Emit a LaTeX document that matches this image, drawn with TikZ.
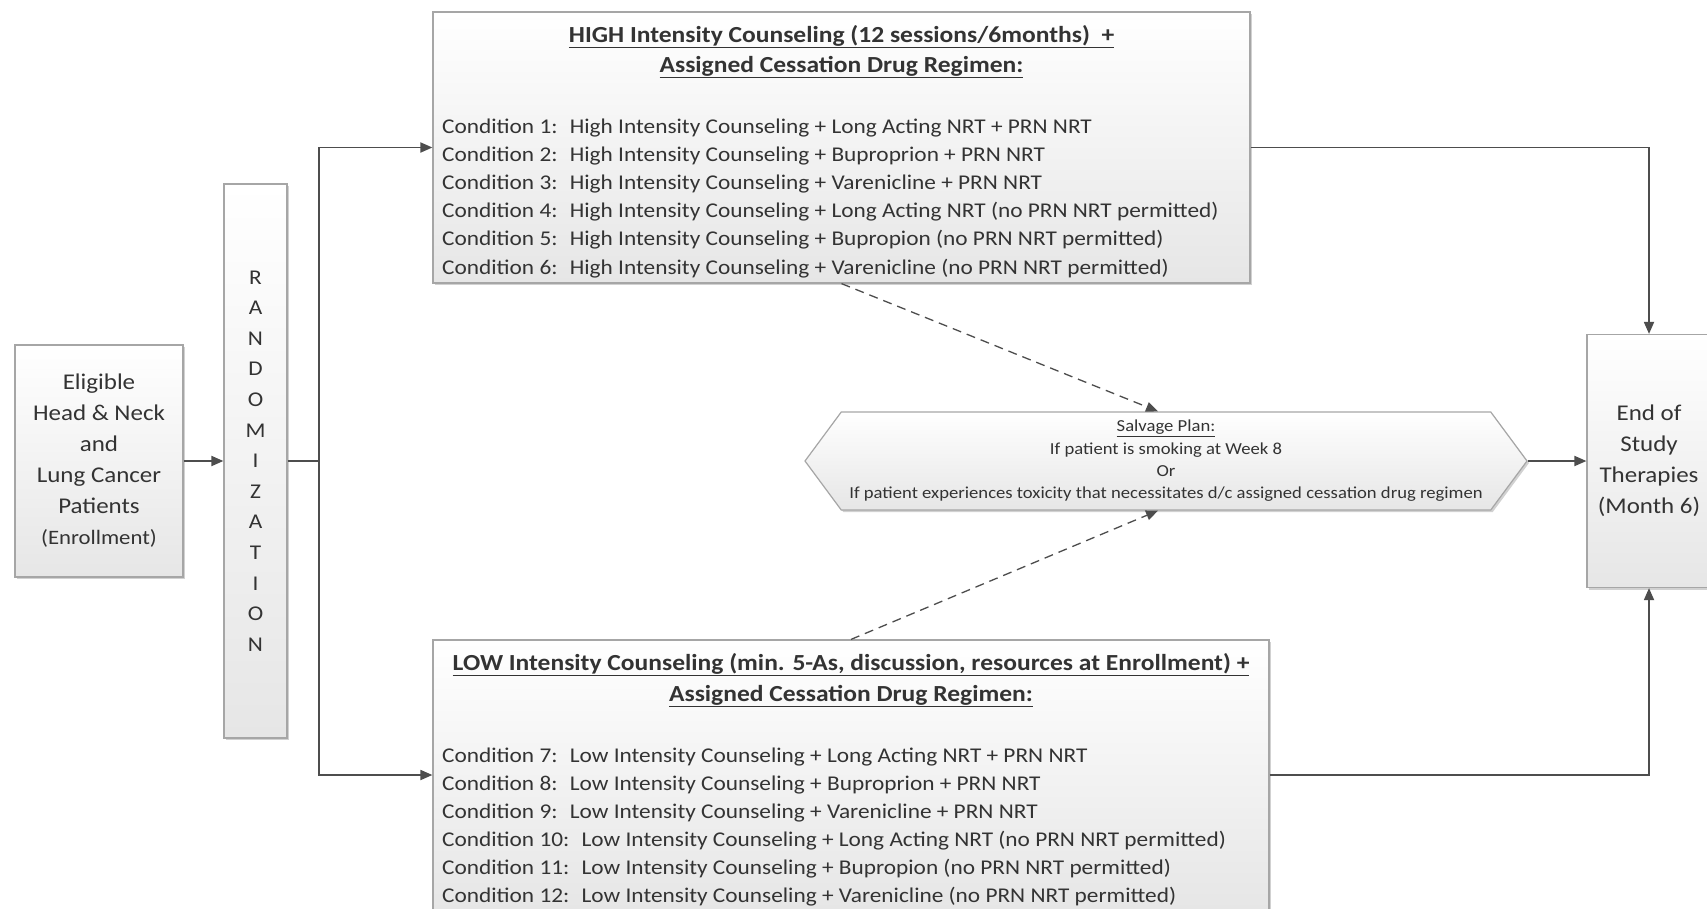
\documentclass[tikz,border=0pt]{standalone}
\usepackage{fontspec}
\setmainfont{Carlito}[FakeStretch=1.11]
\usetikzlibrary{arrows.meta,shadows,shapes.symbols}
\definecolor{txt}{HTML}{333333}
\definecolor{ln}{HTML}{4D4D4D}
\definecolor{bd}{HTML}{A6A6A6}
\definecolor{shd}{HTML}{E6E6E6}
\begin{document}
\begin{tikzpicture}[x=1pt,y=-1pt,
  box/.style={draw=bd, line width=1.2pt, top color=white, bottom color=shd,
    drop shadow={shadow xshift=2pt,shadow yshift=-2pt,fill=black,opacity=0.18},
    inner sep=0pt, text=txt},
  con/.style={draw=ln, line width=1.8pt},
  arr/.style={con, -{Triangle[length=12pt,width=10pt]}},
  dsh/.style={draw=ln, line width=1.3pt, dash pattern=on 9pt off 6pt, -{Triangle[length=12pt,width=10pt]}},
  cond/.style={anchor=base west, inner sep=0pt, text=txt, font=\fontsize{21}{25}\selectfont},
  head/.style={anchor=base, inner sep=0pt, text=txt, font=\bfseries\fontsize{23}{27}\selectfont},
]
\useasboundingbox (0,0) rectangle (1707,908);
\clip (0,0) rectangle (1707,908);
\fill[white] (0,0) rectangle (1707,908);

% boxes
\node[box, minimum width=168pt, minimum height=232pt, align=center,
  font=\fontsize{22.5}{31}\selectfont] (elig) at (99,461)
  {Eligible\\Head \& Neck\\and\\Lung Cancer\\Patients\\{\fontsize{20.5}{31}\selectfont (Enrollment)}};
\node[box, minimum width=63pt, minimum height=554pt, align=center,
  font=\fontsize{21}{30.6}\selectfont] (rand) at (255.5,461)
  {R\\A\\N\\D\\O\\M\\I\\Z\\A\\T\\I\\O\\N};
\node[box, minimum width=817pt, minimum height=271pt] (high) at (841.5,147.5) {};
\node[box, minimum width=836pt, minimum height=270pt] (low) at (851,775) {};
\node[box, minimum width=124pt, minimum height=253pt, align=center,
  font=\fontsize{22.5}{31}\selectfont] (end) at (1649,461)
  {End of\\Study\\Therapies\\(Month 6)};
\node[box, signal, signal to=west and east, signal pointer angle=107,
  minimum width=722pt, minimum height=98pt, align=center,
  font=\fontsize{16.8}{22.3}\selectfont] (salv) at (1166,461)
  {\underline{Salvage Plan:}\\If patient is smoking at Week 8\\Or\\If patient experiences toxicity that necessitates d/c assigned cessation drug regimen};

% high box text
\node[head] (hh1) at (841.5,42) {\underline{HIGH Intensity Counseling (12 sessions/6months)~ +}};
\node[head] (hh2) at (841.5,72) {\underline{Assigned Cessation Drug Regimen:}};
\node[cond] (c1) at (442,133) {Condition 1:~ High Intensity Counseling + Long Acting NRT + PRN NRT};
\node[cond] (c2) at (442,161.2) {Condition 2:~ High Intensity Counseling + Buproprion + PRN NRT};
\node[cond] (c3) at (442,189.4) {Condition 3:~ High Intensity Counseling + Varenicline + PRN NRT};
\node[cond] (c4) at (442,217.6) {Condition 4:~ High Intensity Counseling + Long Acting NRT (no PRN NRT permitted)};
\node[cond] (c5) at (442,245.8) {Condition 5:~ High Intensity Counseling + Bupropion (no PRN NRT permitted)};
\node[cond] (c6) at (442,274) {Condition 6:~ High Intensity Counseling + Varenicline (no PRN NRT permitted)};

% low box text
\node[head] (lh1) at (851,670) {\underline{LOW Intensity Counseling (min. 5-As, discussion, resources at Enrollment) +}};
\node[head] (lh2) at (851,701) {\underline{Assigned Cessation Drug Regimen:}};
\node[cond] (c7) at (442,762) {Condition 7:~ Low Intensity Counseling + Long Acting NRT + PRN NRT};
\node[cond] (c8) at (442,790) {Condition 8:~ Low Intensity Counseling + Buproprion + PRN NRT};
\node[cond] (c9) at (442,818) {Condition 9:~ Low Intensity Counseling + Varenicline + PRN NRT};
\node[cond] (c10) at (442,846) {Condition 10:~ Low Intensity Counseling + Long Acting NRT (no PRN NRT permitted)};
\node[cond] (c11) at (442,874) {Condition 11:~ Low Intensity Counseling + Bupropion (no PRN NRT permitted)};
\node[cond] (c12) at (442,902) {Condition 12:~ Low Intensity Counseling + Varenicline (no PRN NRT permitted)};

% connectors
\coordinate (jn) at (319,461);
\draw[arr] (elig.east) -- (rand.west);
\draw[con] (rand.east) -- (jn);
\draw[arr] (jn) |- (high.west);
\draw[arr] (jn) |- (low.west);
\draw[arr] (high.east) -| (end.north);
\draw[arr] (low.east) -| (end.south);
\draw[arr] (salv.east) -- (end.west);
\draw[dsh] (high.south) -- ([xshift=-8pt]salv.north);
\draw[dsh] (low.north) -- ([xshift=-8pt]salv.south);
\end{tikzpicture}
\end{document}
